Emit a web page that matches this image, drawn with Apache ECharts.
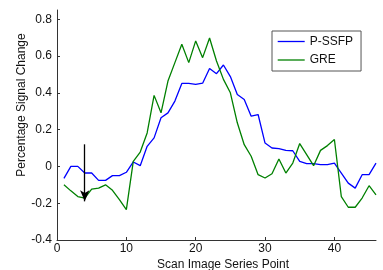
<!DOCTYPE html>
<html>
<head>
<meta charset="utf-8">
<script src="https://cdn.jsdelivr.net/npm/echarts@6/dist/echarts.min.js"></script>
<style>
html,body{margin:0;padding:0;background:#fff;}
#c{width:383px;height:270px;}
</style>
</head>
<body>
<div id="c"></div>
<script>
var xPoints = [1,2,3,4,5,6,7,8,9,10,11,12,13,14,15,16,17,18,19,20,21,22,23,24,25,26,27,28,29,30,31,32,33,34,35,36,37,38,39,40,41,42,43,44,45,46];
var pssfp = [-0.065,0.0,0.0,-0.036,-0.036,-0.076,-0.076,-0.05,-0.05,-0.032,0.024,0.004,0.109,0.155,0.264,0.291,0.355,0.451,0.451,0.446,0.452,0.532,0.504,0.551,0.488,0.391,0.364,0.273,0.282,0.127,0.1,0.097,0.087,0.085,0.027,0.015,0.015,0.01,0.01,0.018,-0.036,-0.091,-0.118,-0.045,-0.045,0.018];
var gre = [-0.1,-0.133,-0.164,-0.172,-0.123,-0.118,-0.1,-0.13,-0.18,-0.235,0.027,0.078,0.182,0.386,0.291,0.464,0.564,0.664,0.564,0.682,0.591,0.698,0.573,0.473,0.4,0.237,0.118,0.055,-0.045,-0.063,-0.04,0.04,-0.036,0.018,0.124,0.064,0.004,0.087,0.113,0.146,-0.164,-0.222,-0.222,-0.172,-0.105,-0.155];
var xTicks = [0,10,20,30,40];
var yTicks = [-0.4,-0.2,0,0.2,0.4,0.6,0.8];
var arrowStart = [4, 0.12];
var arrowEnd = [4, -0.19];
var seriesNames = ['P-SSFP','GRE'];
var xTitle = 'Scan Image Series Point';
var yTitle = 'Percentage Signal Change';

function pairs(xs, ys){ return xs.map(function(x,i){return [x, ys[i]];}); }
var font = 'Arial, "Liberation Sans", Helvetica, sans-serif';
var lineIcon = 'path://M0,0H27V1.3H0Z';
var chart = echarts.init(document.getElementById('c'), null, {renderer:'canvas'});
chart.setOption({
  animation:false,
  backgroundColor:'#fff',
  grid:{left:57, right:7, top:10, bottom:30, containLabel:false},
  xAxis:{
    type:'value', min:0, max:46,
    axisLine:{show:true, onZero:false, lineStyle:{color:'#333', width:1}},
    axisTick:{show:true, inside:true, length:3, customValues:xTicks, lineStyle:{color:'#333'}},
    axisLabel:{customValues:xTicks, margin:3, color:'#111', fontSize:12, fontFamily:font,
      formatter:function(v){ return (Math.abs(v % 10) < 1e-9) ? String(v) : ''; }},
    splitLine:{show:false}
  },
  yAxis:{
    type:'value', min:-0.4, max:0.85,
    axisLine:{show:true, onZero:false, lineStyle:{color:'#333', width:1}},
    axisTick:{show:true, inside:true, length:3, customValues:yTicks, lineStyle:{color:'#333'}},
    axisLabel:{customValues:yTicks, margin:5, color:'#111', fontSize:12, fontFamily:font,
      formatter:function(v){ return v > 0.81 ? '' : String(Math.round(v*10)/10); }},
    splitLine:{show:false}
  },
  legend:{
    show:true,
    orient:'vertical', left:272, top:31,
    padding:[4.5,8,5,5.7], itemGap:6.5, itemWidth:27, itemHeight:12,
    backgroundColor:'#fff', borderColor:'#555', borderWidth:1,
    textStyle:{fontSize:12, color:'#111', fontFamily:font},
    data:[{name:seriesNames[0], icon:lineIcon},{name:seriesNames[1], icon:lineIcon}]
  },
  graphic:[
    {type:'text', x:22, y:105, rotation:Math.PI/2, style:{text:yTitle, fontSize:12, fontFamily:font, fill:'#111', align:'center', verticalAlign:'middle'}},
    {type:'text', x:223, y:265, style:{text:xTitle, fontSize:12, fontFamily:font, fill:'#111', align:'center', verticalAlign:'middle'}}
  ],
  series:[
    {name:seriesNames[0], type:'line', data:pairs(xPoints,pssfp), showSymbol:false, symbol:'none',
      lineStyle:{color:'#0000ff', width:1.3}, itemStyle:{color:'#0000ff'}},
    {name:seriesNames[1], type:'line', data:pairs(xPoints,gre), showSymbol:false, symbol:'none',
      lineStyle:{color:'#008000', width:1.3}, itemStyle:{color:'#008000'},
      markLine:{silent:true, symbol:['none','arrow'], symbolSize:[7,11], label:{show:false},
        lineStyle:{color:'#000', width:1.3, type:'solid'},
        data:[[{coord:arrowStart},{coord:arrowEnd}]]}}
  ]
});
</script>
</body>
</html>
